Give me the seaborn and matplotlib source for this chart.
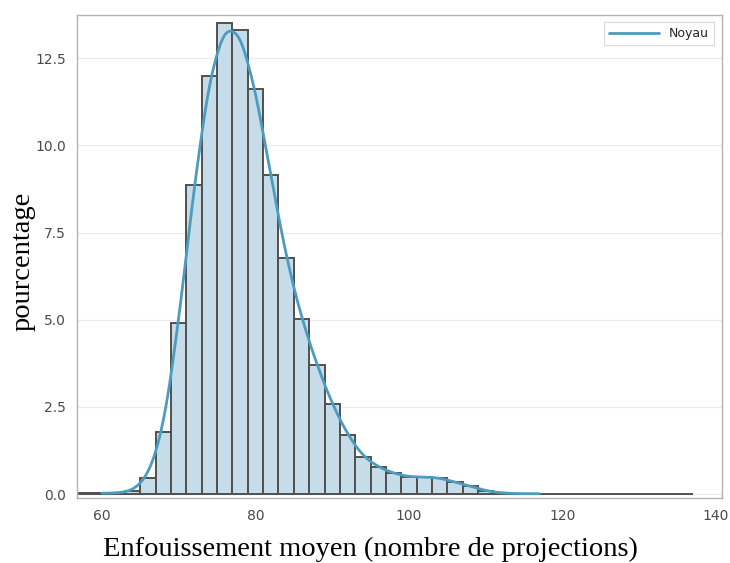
import pandas as pd
import seaborn as sns
import matplotlib.pyplot as plt

# bin centres (bin width 2) and percentage of observations in each bin
centres = [58, 60, 62, 64, 66, 68, 70, 72, 74, 76, 78, 80, 82, 84, 86, 88,
           90, 92, 94, 96, 98, 100, 102, 104, 106, 108, 110, 112,
           114, 116, 118, 120, 122, 124, 126, 128, 130, 132, 134, 136]
pourcentage = [0.02, 0.02, 0.03, 0.08, 0.47, 1.77, 4.90, 8.85, 12.0, 13.5,
               13.3, 11.62, 9.14, 6.76, 5.03, 3.70, 2.57, 1.69, 1.07, 0.77,
               0.59, 0.49, 0.49, 0.47, 0.34, 0.23, 0.09, 0.03,
               0.01, 0.01, 0.01, 0.01, 0.01, 0.01, 0.01, 0.01, 0.01, 0.01, 0.01, 0.01]
y_ticks = [0.0, 2.5, 5.0, 7.5, 10.0, 12.5]
x_ticks = [60, 80, 100, 120, 140]

df = pd.DataFrame({'enf': centres, 'pct': pourcentage})

sns.set_style('white')

fig = plt.figure(figsize=(7.3, 5.63), dpi=100)
ax = fig.add_axes([0.105, 0.1163, 0.8836, 0.8571])

for y in y_ticks:
    ax.axhline(y, color='#ebebeb', lw=0.9, zorder=0)

sns.histplot(data=df, x='enf', weights='pct', binwidth=2, binrange=(57, 137),
             stat='count', color='#c6dce9', alpha=1, edgecolor='#505050',
             linewidth=1.4, kde=True,
             kde_kws=dict(bw_adjust=0.27, clip=(60, 117)),
             line_kws=dict(lw=2), ax=ax)
kde_line = ax.lines[-1]
kde_line.set_color('#4c9cbf')
kde_line.set_label('Noyau')

ax.set_xlim(56.7, 140.75)
ax.set_ylim(-0.1, 13.74)
ax.set_xticks(x_ticks)
ax.set_yticks(y_ticks)
ax.set_yticklabels(['%.1f' % v for v in y_ticks])
ax.tick_params(axis='both', colors='#b0b0b0', labelcolor='#4a4a4a',
               labelsize=10, length=4, width=0.8, direction='out')
ax.tick_params(axis='x', pad=4)
for s in ax.spines.values():
    s.set_color('#b4b4b4')
    s.set_linewidth(1)

ax.set_xlabel('Enfouissement moyen (nombre de projections)',
              family='Liberation Serif', fontsize=20.5, color='black', va='top')
ax.xaxis.set_label_coords(0.4555, -0.081)
ax.set_ylabel('pourcentage', family='Liberation Serif', fontsize=20.5,
              color='black', va='center')
ax.yaxis.set_label_coords(-0.083, 0.49)

leg = ax.legend(handles=[kde_line], loc='upper right', fontsize=9,
                frameon=True, fancybox=False, handlelength=4,
                borderpad=0.4, borderaxespad=0.6)
leg.get_frame().set_edgecolor('#d0d0d0')
leg.get_frame().set_linewidth(0.8)

fig.savefig('out.png', dpi=100)
